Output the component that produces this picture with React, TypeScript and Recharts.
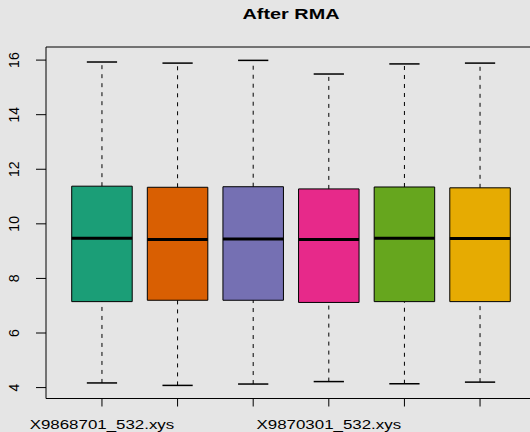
import React from 'react';
import { ComposedChart, XAxis, YAxis, ReferenceArea, ReferenceLine } from 'recharts';

// Six arrays after RMA normalisation, summarised as box stats
const categories = [
  'X9868701_532.xys',
  'X9868901_532.xys',
  'X9870101_532.xys',
  'X9870301_532.xys',
  'X9870501_532.xys',
  'X9870701_532.xys',
];
const maxVals = [15.93, 15.89, 15.99, 15.49, 15.86, 15.89];
const q3Vals = [11.38, 11.34, 11.36, 11.28, 11.35, 11.32];
const medianVals = [9.47, 9.43, 9.44, 9.43, 9.47, 9.46];
const q1Vals = [7.15, 7.2, 7.2, 7.12, 7.15, 7.15];
const minVals = [4.17, 4.08, 4.13, 4.22, 4.14, 4.2];
const boxColors = ['#1B9E77', '#D95F02', '#7570B3', '#E7298A', '#66A61E', '#E6AB02'];
const yTicks = [4, 6, 8, 10, 12, 14, 16];
const xTicks = [1, 2, 3, 4, 5, 6];

const FONT = '"Liberation Sans", Arial, Helvetica, sans-serif';
const Y_DOMAIN: [number, number] = [3.6, 16.48];
const X_DOMAIN: [number, number] = [0.26, 6.74];
const BOX_HALF = 0.4;
const CAP_HALF = 0.2;

const rows = categories.map((name, i) => ({
  pos: i + 1,
  name,
  min: minVals[i],
  q1: q1Vals[i],
  median: medianVals[i],
  q3: q3Vals[i],
  max: maxVals[i],
  color: boxColors[i],
}));

const YTick = (props: any) => {
  const { y, payload } = props;
  return (
    <text
      x={19}
      y={y}
      transform={`rotate(-90 19 ${y})`}
      textAnchor="middle"
      fontSize={14}
      fontFamily={FONT}
      fill="#000"
    >
      {payload.value}
    </text>
  );
};

// R skips labels that would overlap, so only every third one is drawn
const XTick = (props: any) => {
  const { x, payload } = props;
  const idx = payload.value - 1;
  if (idx % 3 !== 0) return <g />;
  return (
    <text
      transform={`translate(${x} 429) scale(1.3 1)`}
      textAnchor="middle"
      fontSize={13}
      fontFamily={FONT}
      fill="#000"
    >
      {categories[idx]}
    </text>
  );
};

export default function App() {
  return (
    <div
      style={{
        position: 'absolute',
        left: 0,
        top: 0,
        width: 530,
        height: 432,
        overflow: 'hidden',
        background: '#E5E5E5',
      }}
    >
      <svg width={530} height={30} style={{ position: 'absolute', left: 0, top: 0 }}>
        <text
          transform="translate(291 18.5) scale(1.28 1)"
          textAnchor="middle"
          fontSize={15.5}
          fontWeight="bold"
          fontFamily={FONT}
          fill="#000"
        >
          After RMA
        </text>
      </svg>
      <ComposedChart
        width={540}
        height={432}
        data={rows}
        margin={{ top: 47, right: 4, bottom: 0, left: 0 }}
      >
        <XAxis
          dataKey="pos"
          type="number"
          domain={X_DOMAIN}
          allowDataOverflow
          ticks={xTicks}
          interval={0}
          height={33.5}
          tickSize={8}
          axisLine={false}
          tickLine={{ stroke: '#000', strokeWidth: 1 }}
          tick={<XTick />}
        />
        <YAxis
          type="number"
          domain={Y_DOMAIN}
          allowDataOverflow
          ticks={yTicks}
          interval={0}
          width={46}
          tickSize={10}
          axisLine={false}
          tickLine={{ stroke: '#000', strokeWidth: 1 }}
          tick={<YTick />}
        />

        {/* plot frame */}
        <ReferenceArea
          x1={X_DOMAIN[0]}
          x2={X_DOMAIN[1]}
          y1={Y_DOMAIN[0]}
          y2={Y_DOMAIN[1]}
          fill="none"
          stroke="#000"
          strokeWidth={1}
        />

        {/* whiskers */}
        {rows.map((r) => (
          <ReferenceLine
            key={`wu${r.pos}`}
            segment={[{ x: r.pos, y: r.q3 }, { x: r.pos, y: r.max }]}
            stroke="#000"
            strokeWidth={1}
            strokeDasharray="4 5"
          />
        ))}
        {rows.map((r) => (
          <ReferenceLine
            key={`wl${r.pos}`}
            segment={[{ x: r.pos, y: r.min }, { x: r.pos, y: r.q1 }]}
            stroke="#000"
            strokeWidth={1}
            strokeDasharray="4 5"
          />
        ))}

        {/* boxes */}
        {rows.map((r) => (
          <ReferenceArea
            key={`b${r.pos}`}
            x1={r.pos - BOX_HALF}
            x2={r.pos + BOX_HALF}
            y1={r.q1}
            y2={r.q3}
            fill={r.color}
            fillOpacity={1}
            stroke="#000"
            strokeWidth={1}
          />
        ))}

        {/* medians */}
        {rows.map((r) => (
          <ReferenceLine
            key={`m${r.pos}`}
            segment={[{ x: r.pos - BOX_HALF, y: r.median }, { x: r.pos + BOX_HALF, y: r.median }]}
            stroke="#000"
            strokeWidth={3}
          />
        ))}

        {/* staples */}
        {rows.map((r) => (
          <ReferenceLine
            key={`cu${r.pos}`}
            segment={[{ x: r.pos - CAP_HALF, y: r.max }, { x: r.pos + CAP_HALF, y: r.max }]}
            stroke="#000"
            strokeWidth={1.5}
          />
        ))}
        {rows.map((r) => (
          <ReferenceLine
            key={`cl${r.pos}`}
            segment={[{ x: r.pos - CAP_HALF, y: r.min }, { x: r.pos + CAP_HALF, y: r.min }]}
            stroke="#000"
            strokeWidth={1.5}
          />
        ))}
      </ComposedChart>
    </div>
  );
}
